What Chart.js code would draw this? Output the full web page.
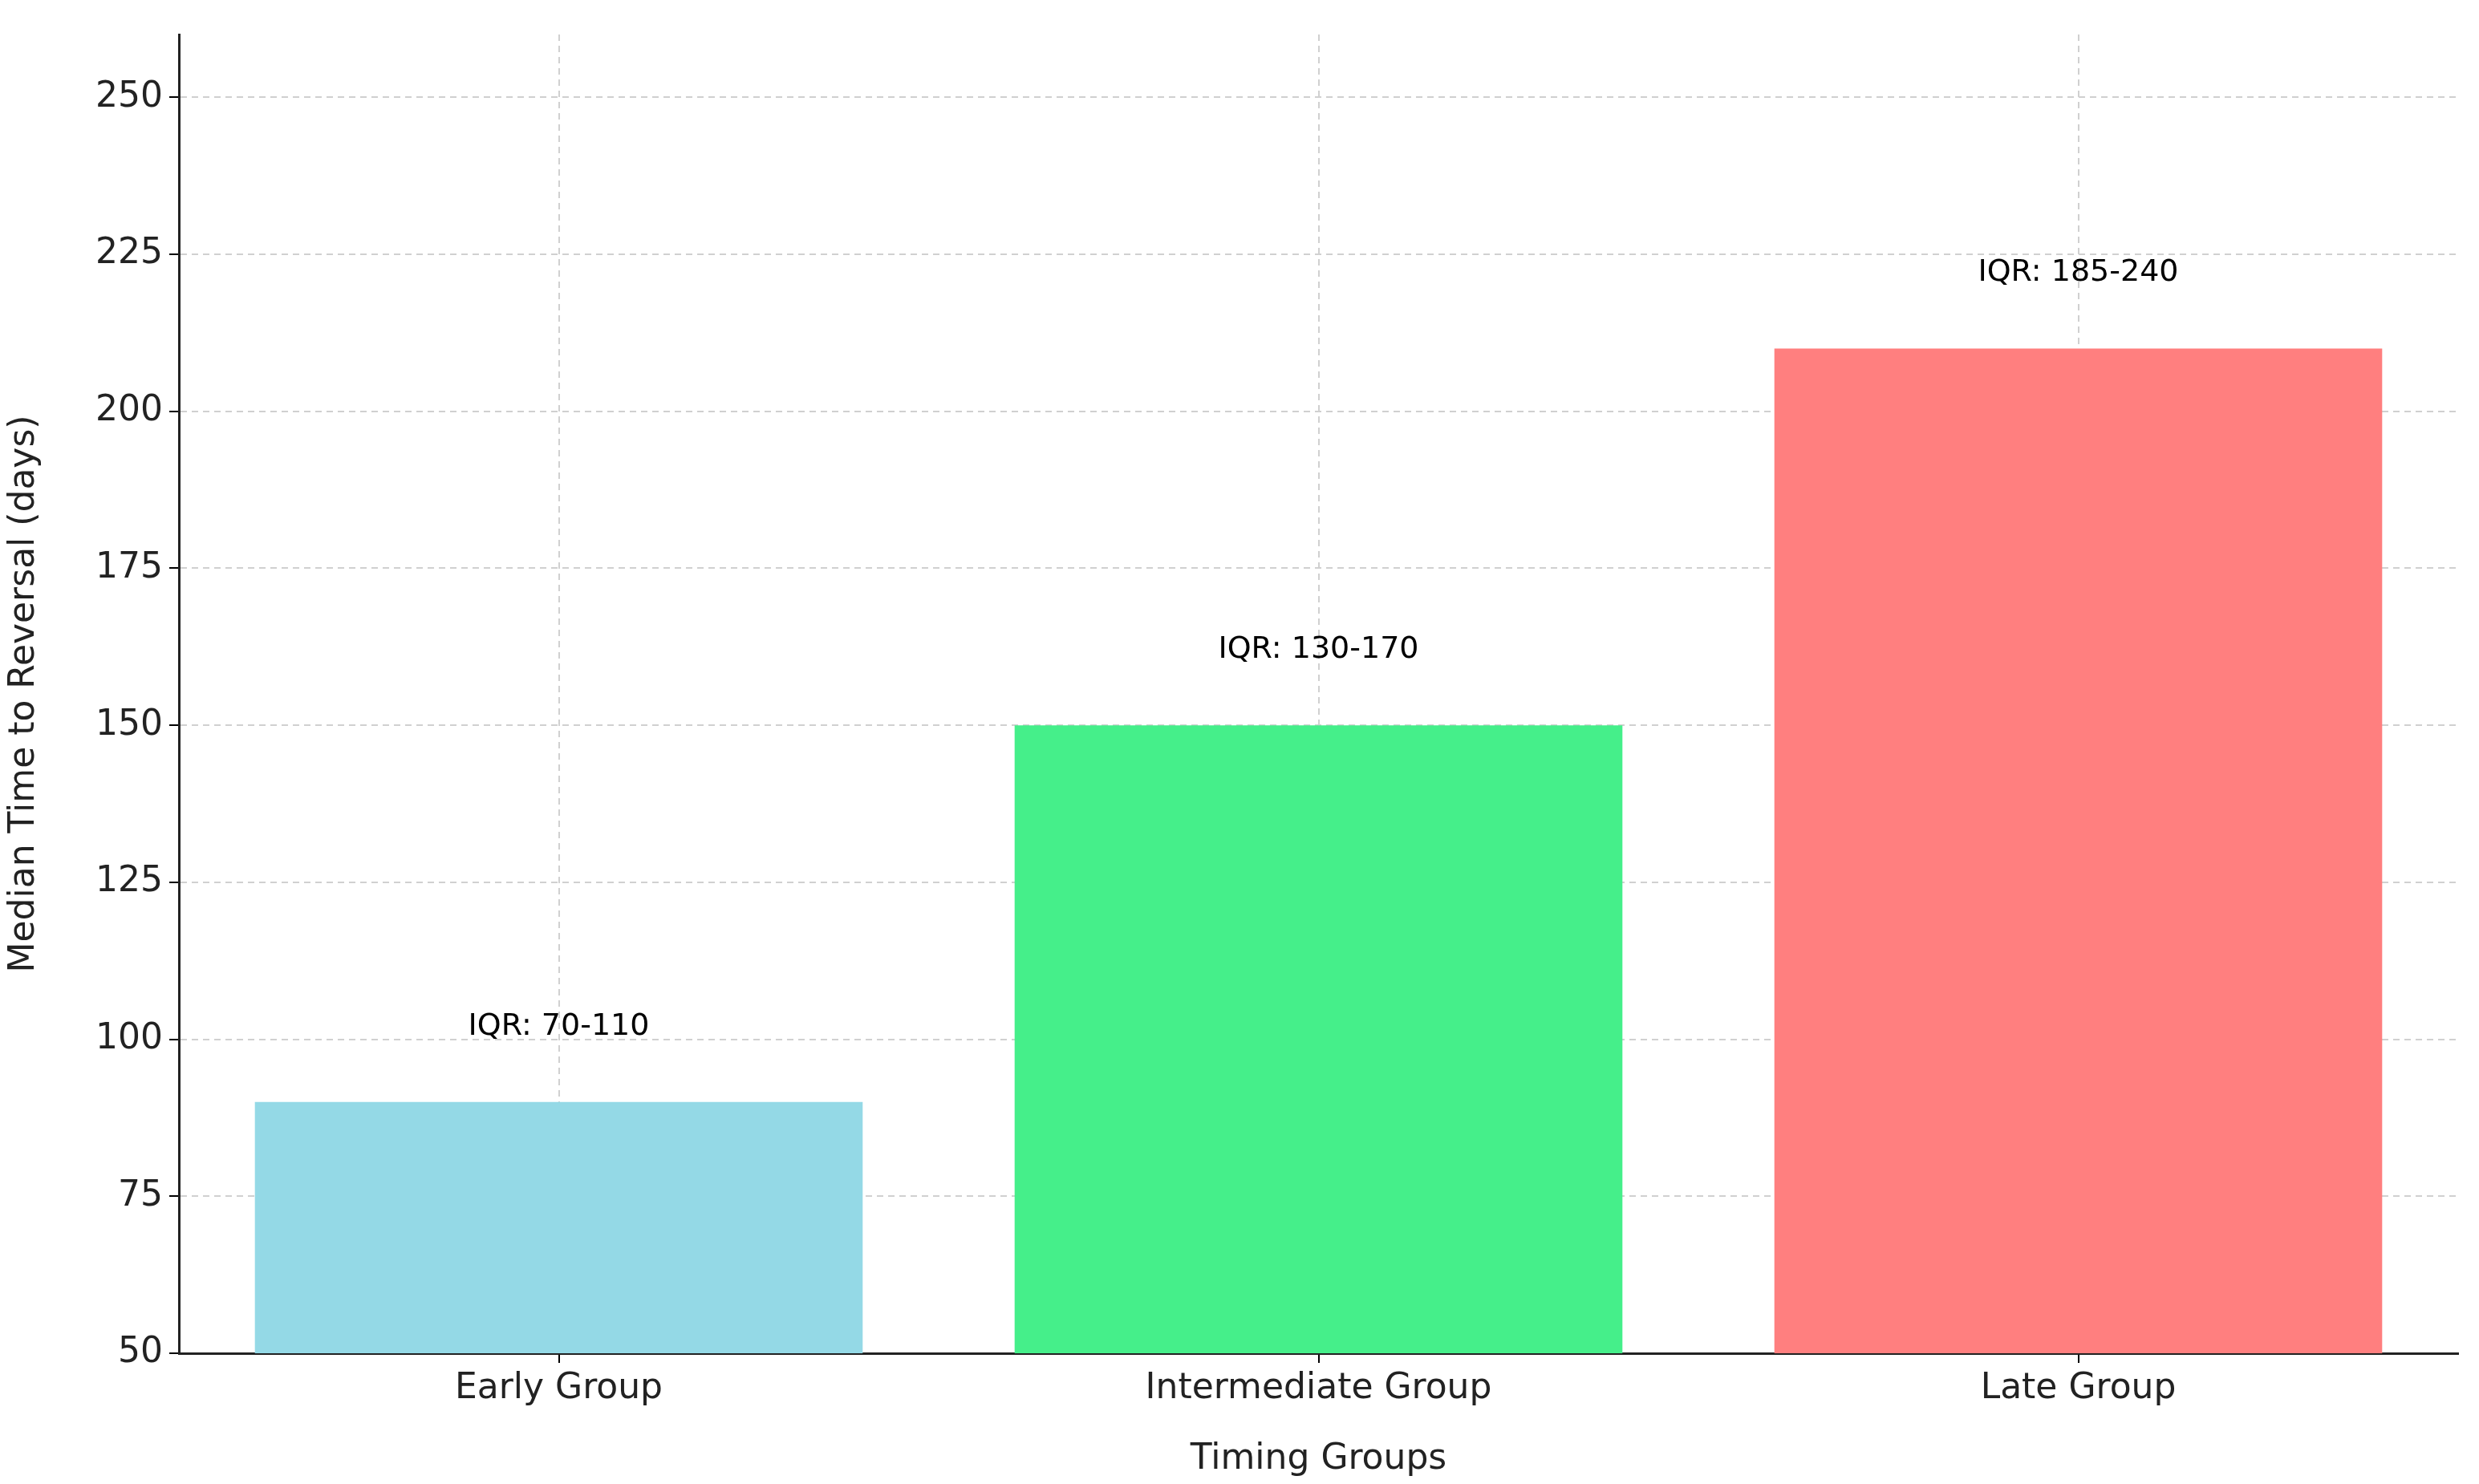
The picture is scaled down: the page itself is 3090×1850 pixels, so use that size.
<!DOCTYPE html>
<html>
<head>
<meta charset="utf-8">
<script src="https://cdn.jsdelivr.net/npm/chart.js@4/dist/chart.umd.min.js"></script>
<style>
  body { margin: 0; background: #fff; }
  #wrap { width: 3090px; height: 1850px; }
</style>
</head>
<body>
<div id="wrap"><canvas id="chart" width="3090" height="1850"></canvas></div>
<script>
'use strict';

const groups = ['Early Group', 'Intermediate Group', 'Late Group'];
const medianDays = [90, 150, 210];
const iqrLabels = ['IQR: 70-110', 'IQR: 130-170', 'IQR: 185-240'];
const barColors = ['#94d9e6', '#45ef8a', '#ff7f7f'];

const font = 'DejaVu Sans';

const iqrPlugin = {
  id: 'iqrText',
  afterDatasetsDraw(chart) {
    let ctx = chart.ctx;
    let yScale = chart.scales.y;
    let meta = chart.getDatasetMeta(0);
    ctx.save();
    ctx.font = '38px "' + font + '"';
    ctx.fillStyle = '#000';
    ctx.textAlign = 'center';
    ctx.textBaseline = 'middle';
    meta.data.forEach((bar, i) => {
      ctx.fillText(iqrLabels[i], bar.x, yScale.getPixelForValue(medianDays[i] + 12));
    });
    ctx.restore();
  }
};

let canvasElem = document.getElementById('chart');

new Chart(canvasElem, {
  type: 'bar',
  data: {
    labels: groups,
    datasets: [{
      data: medianDays,
      backgroundColor: barColors,
      categoryPercentage: 0.8,
      barPercentage: 1.0
    }]
  },
  options: {
    responsive: false,
    animation: false,
    devicePixelRatio: 1,
    layout: { padding: { top: 43, right: 26, left: 0, bottom: 0 } },
    plugins: { legend: { display: false }, tooltip: { enabled: false } },
    scales: {
      x: {
        grid: { offset: false, color: '#d0d0d0', lineWidth: 2, tickLength: 12, tickColor: '#000', drawOnChartArea: true },
        border: { color: '#222', width: 3, dash: [8, 6] },
        ticks: { color: '#222', font: { family: font, size: 44 }, padding: 6 },
        title: { display: true, text: 'Timing Groups', color: '#222', font: { family: font, size: 44 }, padding: { top: 0 } },
        afterFit(s) { s.height = 163; }
      },
      y: {
        min: 50,
        max: 260,
        afterBuildTicks(s) { s.ticks = [50, 75, 100, 125, 150, 175, 200, 225, 250].map(v => ({ value: v })); },
        grid: { color: '#d0d0d0', lineWidth: 2, tickLength: 12, tickColor: '#000' },
        border: { color: '#222', width: 3, dash: [8, 6] },
        ticks: { color: '#222', font: { family: font, size: 44 }, padding: 8 },
        title: { display: true, text: 'Median Time to Reversal (days)', color: '#222', font: { family: font, size: 44 } },
        afterFit(s) { s.width = 223; }
      }
    }
  },
  plugins: [iqrPlugin]
});
</script>
</body>
</html>
